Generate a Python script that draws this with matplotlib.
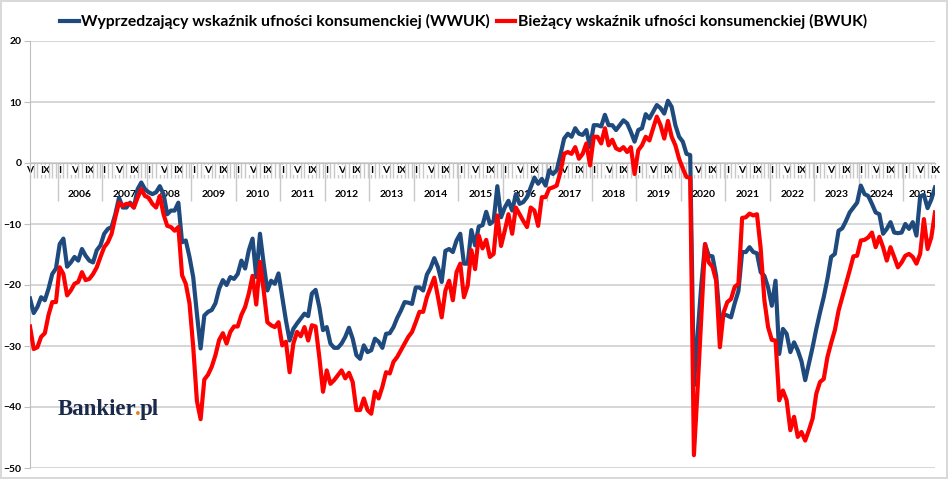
import numpy as np
import pandas as pd
import matplotlib
matplotlib.use('Agg')
import matplotlib.pyplot as plt
from matplotlib.ticker import FixedLocator

# miesiące: od V 2005 do IX 2025
months = pd.period_range('2005-05', '2025-09', freq='M')

# Wyprzedzający wskaźnik ufności konsumenckiej (WWUK)
wwuk = [
    -22.2, -24.6, -23.6, -22.0, -22.5, -20.6, -18.2, -17.3,                      # 2005
    -13.3, -12.4, -17.0, -16.3, -15.4, -16.0, -14.1, -15.2, -16.0, -16.3, -14.3, -13.5,  # 2006
    -11.6, -10.8, -10.5, -8.4, -5.7, -7.3, -7.3, -6.5, -7.3, -4.3, -3.2, -4.3,   # 2007
    -4.8, -5.1, -4.8, -3.8, -5.1, -8.4, -7.8, -7.8, -6.5, -13.0, -12.7, -15.4,   # 2008
    -18.7, -24.7, -30.4, -25.0, -24.4, -24.1, -23.0, -20.6, -19.2, -20.0, -18.7, -19.0,  # 2009
    -18.2, -16.0, -17.3, -14.3, -12.4, -18.7, -11.6, -16.5, -20.9, -19.3, -19.8, -18.1,  # 2010
    -22.0, -25.8, -29.1, -27.2, -26.3, -25.5, -24.7, -25.1, -21.4, -20.8, -23.6, -27.4,  # 2011
    -26.9, -29.6, -30.3, -30.3, -29.6, -28.5, -27.0, -28.8, -31.5, -32.1, -29.9, -31.0,  # 2012
    -30.7, -28.8, -29.3, -30.3, -28.0, -27.9, -26.9, -25.4, -24.2, -22.8, -22.9, -23.1,  # 2013
    -20.4, -20.4, -20.9, -18.3, -17.2, -15.6, -17.1, -19.5, -14.4, -14.1, -14.6, -12.7,  # 2014
    -11.6, -16.5, -16.5, -11.0, -13.5, -10.4, -10.2, -8.0, -10.0, -9.5, -3.8, -8.9,  # 2015
    -7.3, -6.2, -7.8, -5.1, -6.7, -6.4, -5.6, -4.0, -2.4, -3.4, -2.6, -3.7,      # 2016
    -1.2, -1.8, -1.2, 1.3, 4.0, 4.8, 4.3, 5.7, 4.8, 4.6, 5.4, 2.6,               # 2017
    6.2, 6.2, 6.0, 7.9, 6.2, 6.2, 5.4, 6.2, 7.0, 6.5, 5.1, 3.5,                  # 2018
    5.4, 5.7, 8.0, 7.3, 8.4, 9.5, 9.0, 8.1, 10.2, 9.2, 6.2, 4.3,                 # 2019
    3.5, 1.5, 1.3, -36.5, -28.0, -20.0, -13.3, -15.2, -15.3, -18.5, -25.8, -24.8,  # 2020
    -25.0, -25.3, -23.0, -21.0, -14.6, -14.6, -13.8, -14.6, -14.8, -17.9, -18.5, -20.4,  # 2021
    -23.4, -19.3, -31.3, -27.2, -28.0, -31.0, -29.4, -30.7, -32.5, -35.6, -32.9, -30.2,  # 2022
    -27.2, -24.5, -22.0, -19.0, -15.4, -14.9, -11.1, -10.7, -9.5, -8.1, -7.3, -6.5,  # 2023
    -3.7, -5.1, -5.4, -6.7, -8.1, -8.4, -11.6, -10.8, -9.7, -11.4, -11.5, -11.4,  # 2024
    -10.0, -10.8, -9.7, -11.9, -5.5, -5.2, -7.4, -6.0, -4.0,                     # 2025
]

# Bieżący wskaźnik ufności konsumenckiej (BWUK)
bwuk = [
    -26.8, -30.5, -30.2, -28.5, -27.9, -24.9, -22.8, -22.8,                      # 2005
    -17.1, -18.2, -21.7, -20.9, -19.8, -19.5, -17.9, -19.2, -19.0, -18.2, -17.1, -15.4,  # 2006
    -13.8, -13.0, -11.6, -8.9, -6.5, -7.0, -6.7, -6.7, -7.3, -5.7, -4.3, -5.4,   # 2007
    -5.7, -6.7, -7.3, -5.4, -8.4, -10.3, -10.5, -11.1, -10.5, -18.4, -19.8, -23.0,  # 2008
    -30.1, -39.0, -42.0, -35.5, -34.7, -33.4, -31.5, -29.0, -27.9, -29.6, -27.7, -26.8,  # 2009
    -26.8, -24.9, -23.6, -21.4, -18.5, -23.2, -16.2, -20.9, -26.1, -26.6, -26.9, -26.1,  # 2010
    -29.9, -29.3, -34.3, -29.6, -27.7, -28.4, -26.9, -29.1, -26.6, -26.8, -31.8, -37.5,  # 2011
    -34.0, -36.2, -35.6, -34.8, -34.0, -35.3, -34.4, -35.9, -40.5, -40.5, -38.6, -40.5,  # 2012
    -41.1, -37.5, -38.6, -36.7, -34.3, -34.5, -32.6, -31.8, -30.7, -29.6, -28.5, -27.7,  # 2013
    -26.1, -24.4, -24.4, -22.0, -20.4, -18.8, -22.0, -25.3, -20.9, -19.3, -22.5, -17.9,  # 2014
    -16.5, -22.0, -20.1, -14.3, -17.4, -11.9, -14.0, -12.6, -15.4, -14.9, -8.6, -13.6,  # 2015
    -11.1, -8.4, -11.6, -7.3, -8.4, -9.5, -10.5, -7.3, -7.8, -10.3, -5.6, -5.6,  # 2016
    -4.2, -4.0, -3.7, -1.5, 1.5, 1.8, 1.5, 2.6, 0.7, 1.5, 3.2, -0.4,             # 2017
    4.3, 4.3, 3.2, 5.7, 2.9, 3.8, 2.4, 2.1, 2.6, 1.8, 2.6, -1.8,                 # 2018
    2.1, 2.9, 4.3, 3.7, 5.7, 7.6, 6.2, 4.0, 6.9, 4.3, 2.9, 0.7,                  # 2019
    -0.9, -2.3, -2.4, -47.9, -37.0, -25.0, -13.3, -16.3, -17.0, -19.3, -30.2, -24.5,  # 2020
    -22.8, -22.3, -20.3, -19.8, -9.0, -8.9, -8.3, -8.6, -8.4, -14.0, -22.5, -26.9,  # 2021
    -29.0, -29.1, -38.9, -37.3, -38.9, -43.8, -41.6, -44.9, -44.1, -45.5, -43.8, -41.9,  # 2022
    -37.8, -35.9, -35.4, -31.8, -29.5, -27.4, -24.2, -22.0, -19.8, -17.6, -15.3, -15.2,  # 2023
    -12.7, -12.6, -12.2, -11.4, -13.8, -12.1, -13.8, -16.0, -13.8, -15.4, -17.1, -16.3,  # 2024
    -15.2, -14.9, -15.4, -16.5, -14.9, -9.2, -14.1, -12.2, -8.1,                 # 2025
]

roman = {1: 'I', 5: 'V', 9: 'IX'}
blue = '#1f4a7e'
red = '#ff0000'
grid_c = '#d0d0d0'

plt.rcParams['font.family'] = ['Lato', 'DejaVu Sans']

x = np.arange(len(months))

fig = plt.figure(figsize=(9.48, 4.79), dpi=100)
ax = fig.add_axes([30 / 948, 11 / 479, 905 / 948, 427 / 479])

ax.plot(x, wwuk, color=blue, lw=3.0, zorder=3, solid_joinstyle='round',
        label='Wyprzedzający wskaźnik ufności konsumenckiej (WWUK)')
ax.plot(x, bwuk, color=red, lw=3.0, zorder=3, solid_joinstyle='round',
        label='Bieżący wskaźnik ufności konsumenckiej (BWUK)')

ax.set_xlim(0, len(months) - 1)
ax.set_ylim(-50, 20)

# oś Y i siatka
ax.set_yticks(range(-50, 21, 10))
ax.yaxis.grid(True, color=grid_c, lw=1.2)
ax.tick_params(axis='y', length=4, color='#bfbfbf', labelsize=7.5, pad=2)
for t in ax.get_yticklabels():
    t.set_fontweight('bold')

for s in ['top', 'right']:
    ax.spines[s].set_visible(False)
ax.spines['left'].set_color('#bfbfbf')
ax.spines['bottom'].set_position(('data', 0))
ax.spines['bottom'].set_color('#bfbfbf')

# oś X: miesiące (I, V, IX) i lata
ax.set_xticks(x)
ax.set_xticklabels([roman.get(m.month, '') for m in months])
ax.tick_params(axis='x', which='major', length=11, color='#c8c8c8', width=1,
               labelsize=7.5, pad=-9)
for t in ax.get_xticklabels():
    t.set_fontweight('bold')
    if t.get_text():
        t.set_bbox(dict(facecolor='white', edgecolor='none', pad=0.3))

jan_idx = [i for i, m in enumerate(months) if m.month == 1]
ax.xaxis.set_minor_locator(FixedLocator([i - 0.5 for i in jan_idx]))
ax.tick_params(axis='x', which='minor', length=27, color='#c8c8c8', width=1)

years = sorted(set(m.year for m in months))
for yr in years:
    idx = [i for i, m in enumerate(months) if m.year == yr]
    if len(idx) < 9:
        continue
    ax.annotate(str(yr), xy=(np.mean(idx), 0), xytext=(0, -23),
                textcoords='offset points', ha='center', va='center',
                fontsize=7.5, fontweight='bold', zorder=1)

# legenda
ax.legend(loc='upper center', bbox_to_anchor=(0.489, 1.0), bbox_transform=fig.transFigure,
          ncol=2, frameon=False, handlelength=1.2, handletextpad=0.15, columnspacing=0.4,
          prop={'weight': 'bold', 'size': 11.3})

# logo Bankier.pl
renderer = fig.canvas.get_renderer()
logo_c = '#1b2a4a'
logo_xy = (58 / 948, 1 - 415 / 479)
t1 = fig.text(logo_xy[0], logo_xy[1], 'Bankier', family='Liberation Serif',
              fontsize=16.5, fontweight='bold', color=logo_c)
w1 = t1.get_window_extent(renderer).width * 72 / 100 - 1.2
t2 = ax.annotate('.', xy=logo_xy, xycoords='figure fraction',
                 xytext=(w1, 0), textcoords='offset points',
                 family='Liberation Serif', fontsize=16.5, fontweight='bold',
                 color='#f07d1a')
w2 = t2.get_window_extent(renderer).width * 72 / 100 - 0.6
ax.annotate('pl', xy=logo_xy, xycoords='figure fraction',
            xytext=(w1 + w2, 0), textcoords='offset points',
            family='Liberation Serif', fontsize=16.5, fontweight='bold', color=logo_c)

fig.patch.set_edgecolor('#d9d9d9')
fig.patch.set_linewidth(1.5)

fig.savefig('out.png', dpi=100, edgecolor=fig.get_edgecolor())
